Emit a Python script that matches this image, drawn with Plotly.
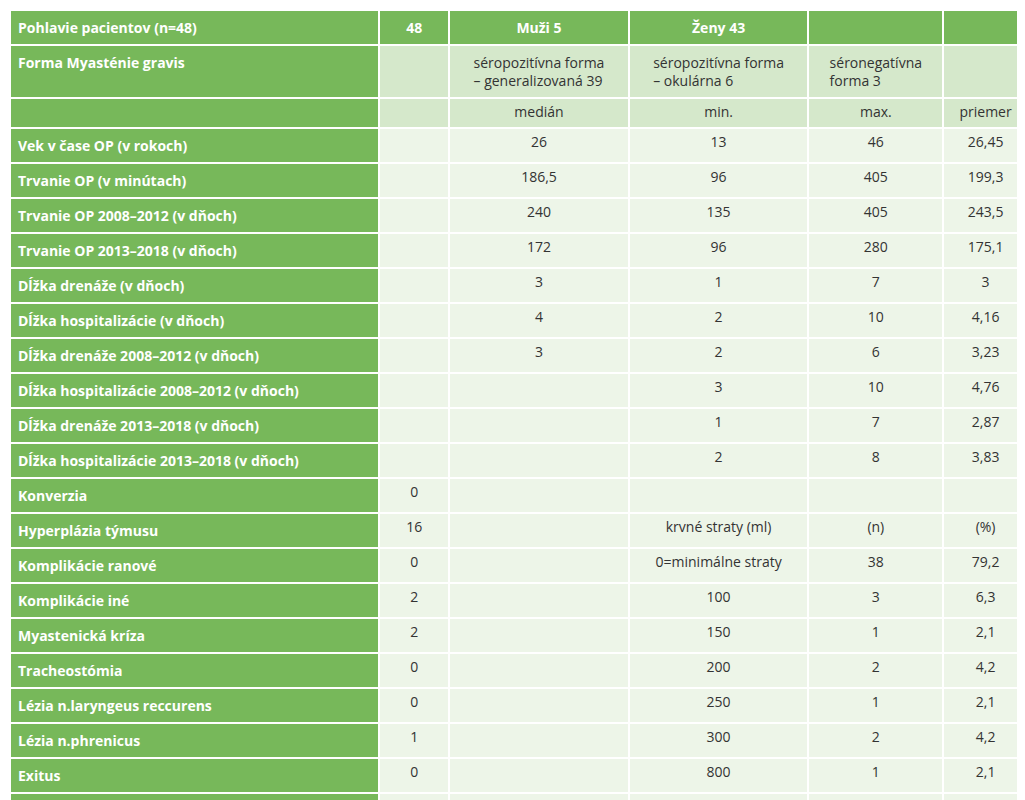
import plotly.graph_objects as go

labels = ["Pohlavie pacientov (n=48)", "Forma Myasténie gravis", "",
          "Vek v čase OP (v rokoch)", "Trvanie OP (v minútach)",
          "Trvanie OP 2008–2012 (v dňoch)", "Trvanie OP 2013–2018 (v dňoch)",
          "Dĺžka drenáže (v dňoch)", "Dĺžka hospitalizácie (v dňoch)",
          "Dĺžka drenáže 2008–2012 (v dňoch)", "Dĺžka hospitalizácie 2008–2012 (v dňoch)",
          "Dĺžka drenáže 2013–2018 (v dňoch)", "Dĺžka hospitalizácie 2013–2018 (v dňoch)",
          "Konverzia", "Hyperplázia týmusu", "Komplikácie ranové", "Komplikácie iné",
          "Myastenická kríza", "Tracheostómia", "Lézia n.laryngeus reccurens",
          "Lézia n.phrenicus", "Exitus", "Plazmaferéza", "IVIG"]
col_n = ["48", "", "", "", "", "", "", "", "", "", "", "", "",
         "0", "16", "0", "2", "2", "0", "0", "1", "0", "9", "6"]
col_median = ["Muži 5", "séropozitívna forma<br>– generalizovaná 39", "medián",
              "26", "186,5", "240", "172", "3", "4", "3", "", "", "",
              "", "", "", "", "", "", "", "", "", "", ""]
col_min = ["Ženy 43", "séropozitívna forma<br>– okulárna 6", "min.",
           "13", "96", "135", "96", "1", "2", "2", "3", "1", "2",
           "", "krvné straty (ml)", "0=minimálne straty", "100", "150", "200",
           "250", "300", "800", "spolu", ""]
col_max = ["", "séronegatívna<br>forma 3", "max.",
           "46", "405", "405", "280", "7", "10", "6", "10", "7", "8",
           "", "(n)", "38", "3", "1", "2", "1", "2", "1", "48", ""]
col_mean = ["", "", "priemer",
            "26,45", "199,3", "243,5", "175,1", "3", "4,16", "3,23", "4,76", "2,87", "3,83",
            "", "(%)", "79,2", "6,3", "2,1", "4,2", "2,1", "4,2", "2,1", "100", ""]

GREEN = "#77b85a"
MID = "#d5e8cb"
LIGHT = "#edf5e8"

columns = [labels, col_n, col_median, col_min, col_max, col_mean]
header_vals = ["<b>%s</b>" % c[0] for c in columns]
body = [c[1:] for c in columns]
body[0] = ["<b>%s</b>" % t for t in body[0]]
n = len(body[0])

other_fill = [MID] * 2 + [LIGHT] * (n - 2)
align = ["left", "center", "center", "center", "center", "center"]

fig = go.Figure(go.Table(
    columnwidth=[370, 70, 180, 180, 135, 85],
    header=dict(values=header_vals, height=30,
                fill=dict(color=GREEN), align=align,
                font=dict(family="Open Sans", size=14, color="white"),
                line=dict(color="white", width=2)),
    cells=dict(
        values=body,
        fill=dict(color=[[GREEN] * n] + [other_fill] * 5),
        font=dict(family="Open Sans", size=14,
                  color=[["white"] * n] + [["#333333"] * n] * 5),
        align=align,
        line=dict(color="white", width=2),
        height=30,
    ),
))
fig.update_layout(width=1025, height=800, margin=dict(l=2, r=5, t=2, b=0),
                  paper_bgcolor="white")
fig.write_html("out.html")
